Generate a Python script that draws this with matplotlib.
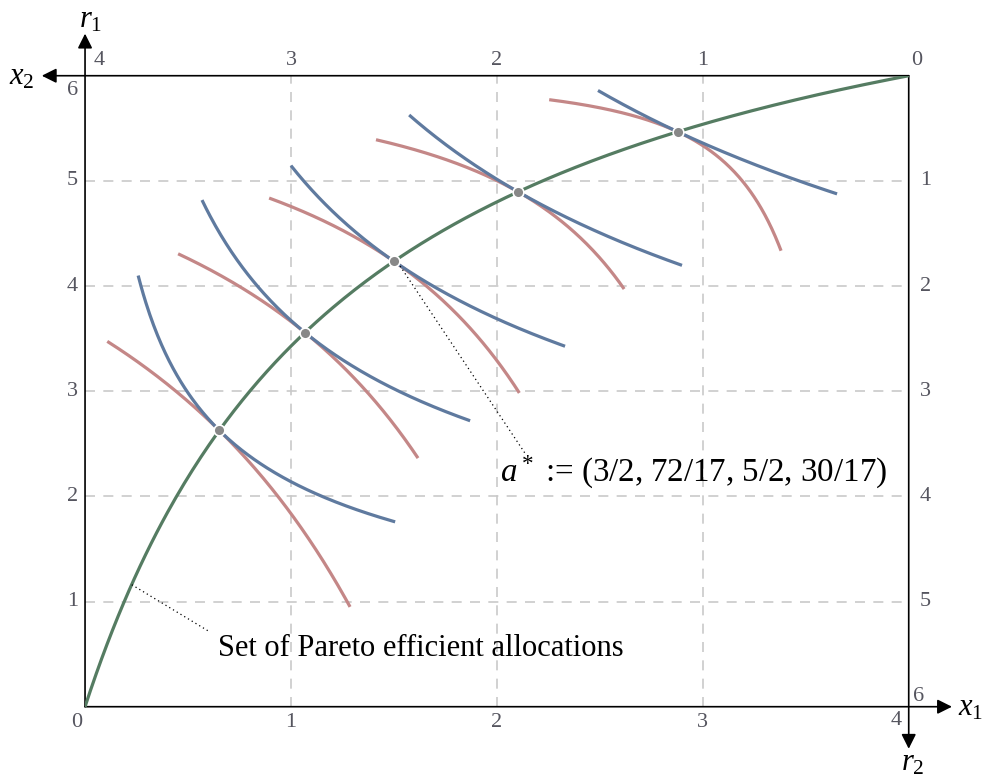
import numpy as np
import matplotlib.pyplot as plt

plt.rcParams['font.family'] = ['Liberation Serif', 'DejaVu Serif']
plt.rcParams['mathtext.fontset'] = 'custom'
plt.rcParams['mathtext.rm'] = 'Liberation Serif'
plt.rcParams['mathtext.it'] = 'Liberation Serif:italic'

# box size (total endowment)
total_x1, total_x2 = 4, 6
# exponent ratios of the two Cobb-Douglas agents
p1 = 0.48
p2 = 4 * p1

# tangency points on the contract curve (x1)
tangency_x1 = [0.652, 1.068, 1.5, 2.103, 2.878]
# x1 range drawn for each indifference curve
blue_range = [(0.258, 1.506), (0.568, 1.870), (1.0, 2.331), (1.574, 2.899), (2.491, 3.652)]
red_range = [(0.108, 1.287), (0.452, 1.617), (0.894, 2.109), (1.413, 2.618), (2.254, 3.380)]

bottom_ticks = ['0', '1', '2', '3', '4']
left_ticks = ['1', '2', '3', '4', '5', '6']
top_ticks = ['4', '3', '2', '1', '0']
right_ticks = ['1', '2', '3', '4', '5', '6']

blue = '#5f7a9f'
red = '#c48787'
green = '#557c62'
grey_txt = '#55555f'


def contract(x1):
    return 4 * total_x2 * x1 / (total_x1 + 3 * x1)


fig = plt.figure(figsize=(9.9, 7.79), dpi=100)
ax = fig.add_axes([0.0859, 0.0928, 0.8320, 0.8100])
ax.set_xlim(0, total_x1)
ax.set_ylim(0, total_x2)
ax.axis('off')

# grid
for gx in [1, 2, 3]:
    ax.plot([gx, gx], [0, total_x2], color='#c9c9c9', lw=1.2, ls=(0, (6, 5)), zorder=1)
for gy in [1, 2, 3, 4, 5]:
    ax.plot([0, total_x1], [gy, gy], color='#c9c9c9', lw=1.2, ls=(0, (6, 5)), zorder=1)

# indifference curves
for xs, (ra, rb), (ba, bb) in zip(tangency_x1, red_range, blue_range):
    ys = contract(xs)
    xr = np.linspace(ra, rb, 200)
    yr = total_x2 - (total_x2 - ys) * ((total_x1 - xs) / (total_x1 - xr)) ** p2
    ax.plot(xr, yr, color=red, lw=2.3, zorder=2, solid_capstyle='butt')
    xb = np.linspace(ba, bb, 200)
    yb = ys * (xs / xb) ** p1
    ax.plot(xb, yb, color=blue, lw=2.3, zorder=3, solid_capstyle='butt')

# contract curve
xc = np.linspace(0, total_x1, 300)
ax.plot(xc, contract(xc), color=green, lw=2.3, zorder=4)
px = np.array(tangency_x1)
ax.scatter(px, contract(px), s=60, color='#888888', edgecolor='white', linewidth=1.2, zorder=5)

# box edges with arrows
arrow = dict(arrowstyle='-|>', lw=1.2, color='black', mutation_scale=22, shrinkA=0, shrinkB=0)
ax.annotate('', xy=(0, 6.40), xytext=(0, 0), arrowprops=arrow, annotation_clip=False)
ax.annotate('', xy=(-0.21, 6), xytext=(4, 6), arrowprops=arrow, annotation_clip=False)
ax.annotate('', xy=(4.21, 0), xytext=(0, 0), arrowprops=arrow, annotation_clip=False)
ax.annotate('', xy=(4, -0.40), xytext=(4, 6), arrowprops=arrow, annotation_clip=False)

fs = 16
tk = dict(fontsize=fs, color=grey_txt, ha='center', va='center', clip_on=False)
for i, t in enumerate(bottom_ticks):
    x = i
    if i == 0:
        x = -0.04
    if i == 4:
        x = 3.94
    ax.text(x, -0.15 if i < 4 else -0.13, t, **tk)
for i, t in enumerate(left_ticks):
    y = i + 1
    if y == 6:
        y = 5.86
    ax.text(-0.062, y, t, **tk)
for i, t in enumerate(top_ticks):
    x = i
    if i == 0:
        x = 0.07
    if i == 4:
        x = 4.04
    ax.text(x, 6.14, t, **tk)
for i, t in enumerate(right_ticks):
    y = total_x2 - (i + 1)
    x = 4.08
    if i == 5:
        y = 0.10
        x = 4.05
    ax.text(x, y, t, **tk)

lab = dict(fontsize=22, color='black', ha='center', va='center', clip_on=False)
ax.text(-0.305, 5.99, r'$x_2$', **lab)
ax.text(0.025, 6.53, r'$r_1$', **lab)
ax.text(4.30, -0.01, r'$x_1$', **lab)
ax.text(4.02, -0.54, r'$r_2$', **lab)

# annotations
ax.plot([1.53, 2.14], [4.19, 2.40], color='black', lw=0.9, ls=(0, (1, 2.5)), zorder=4)
ax.text(2.015, 2.225, r'$a^*$ := (3/2, 72/17, 5/2, 30/17)', fontsize=23.8, ha='left', va='center')
ax.plot([0.227, 0.607], [1.16, 0.71], color='black', lw=0.9, ls=(0, (1, 2.5)), zorder=4)
ax.text(0.646, 0.555, 'Set of Pareto efficient allocations', fontsize=22, ha='left', va='center')

fig.savefig('out.png', dpi=100)
